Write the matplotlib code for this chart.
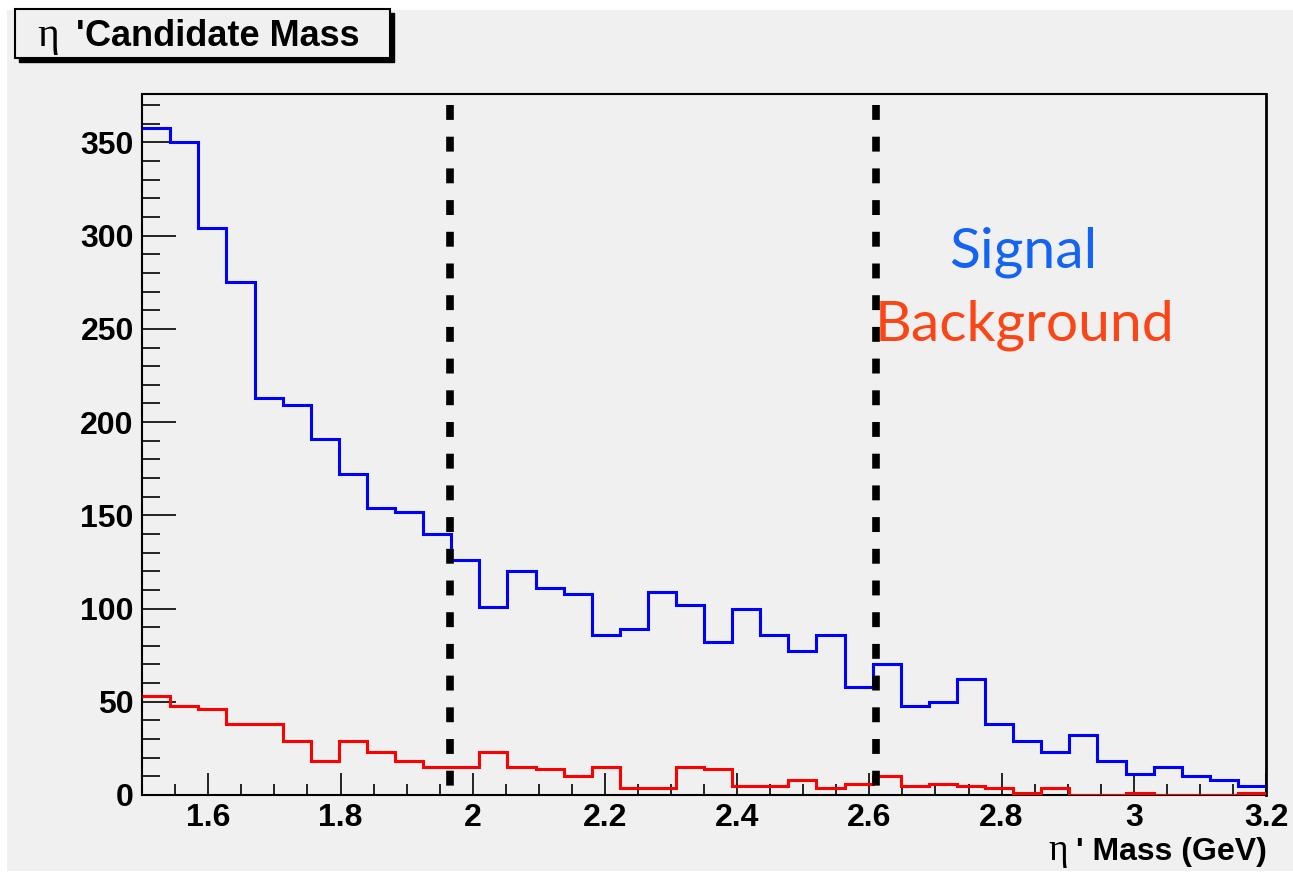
import numpy as np
import matplotlib
matplotlib.use("Agg")
import matplotlib.pyplot as plt
from matplotlib.patches import Rectangle
from matplotlib.ticker import MultipleLocator

# ---------------- data ----------------
x_min, x_max, n_bins = 1.5, 3.2, 40
signal = [358, 350, 304, 275, 213, 209, 191, 172, 154, 152,
          140, 126, 101, 120, 111, 108, 86, 89, 109, 102,
          82, 100, 86, 77, 86, 58, 70, 48, 50, 62,
          38, 29, 23, 32, 18, 11, 15, 10, 8, 5]
background = [53, 48, 46, 38, 38, 29, 18, 29, 23, 18,
              15, 15, 23, 15, 14, 10, 15, 4, 4, 15,
              14, 5, 5, 8, 4, 6, 10, 5, 6, 5,
              4, 1, 4, 0, 0, 1, 0, 0, 0, 1]
cut_lines = [1.965, 2.61]
cut_top = 370
y_max = 376
title_parts = ["η", "'", "Candidate Mass"]
xlabel_parts = ["η", "' Mass (GeV)"]
legend_labels = ["Signal", "Background"]

# ---------------- figure ----------------
W, H = 1293, 873
fig = plt.figure(figsize=(W / 100, H / 100), dpi=100, facecolor="white")

def fx(px):
    return px / W

def fy(py):
    return 1 - py / H

# gray canvas
fig.patches.append(Rectangle((fx(7), fy(871)), fx(1293) - fx(7), fy(10) - fy(871),
                             transform=fig.transFigure, facecolor="#f0f0f0",
                             edgecolor="none", zorder=-10))

ax = fig.add_axes([fx(142.2), fy(795), fx(1266) - fx(142.2), fy(94) - fy(795)])
ax.set_facecolor("#f0f0f0")

edges = np.linspace(x_min, x_max, n_bins + 1)
ax.stairs(signal, edges, baseline=None, color="#0000ff", lw=2.2, zorder=3)
ax.stairs(background, edges, baseline=None, color="#ff0000", lw=2.2, zorder=3)

for xc in cut_lines:
    ax.plot([xc, xc], [cut_top, 0], color="black", lw=5.5,
            dashes=(1.95, 2.2), solid_capstyle="butt", zorder=4)

ax.set_xlim(x_min, x_max)
ax.set_ylim(0, y_max)

ax.xaxis.set_major_locator(MultipleLocator(0.2))
ax.xaxis.set_minor_locator(MultipleLocator(0.05))
ax.yaxis.set_major_locator(MultipleLocator(50))
ax.yaxis.set_minor_locator(MultipleLocator(10))
ax.xaxis.set_major_formatter(plt.FuncFormatter(lambda v, p: f"{v:g}"))

ax.tick_params(axis="both", which="both", direction="in", top=False, right=False,
               colors="black", width=1.2)
ax.tick_params(axis="y", which="major", length=24.5, pad=6)
ax.tick_params(axis="y", which="minor", length=13)
ax.tick_params(axis="x", which="major", length=16, pad=6)
ax.tick_params(axis="x", which="minor", length=8)
for lab in ax.get_xticklabels() + ax.get_yticklabels():
    lab.set_fontfamily("Liberation Sans")
    lab.set_fontweight("bold")
    lab.set_fontsize(23)
for sp in ax.spines.values():
    sp.set_linewidth(1.5)
    sp.set_color("black")
ax.spines["right"].set_linewidth(2.0)

# legend text
ax.text(0.784, 0.753, legend_labels[0], transform=ax.transAxes, ha="center",
        va="baseline", fontsize=41, family="Lato", color="#1464f4")
ax.text(0.785, 0.649, legend_labels[1], transform=ax.transAxes, ha="center",
        va="baseline", fontsize=41, family="Lato", color="#fa4616")

# title box with shadow
bx0, bx1, by0, by1 = 15, 390, 9, 58
fig.patches.append(Rectangle((fx(bx0 + 4), fy(by1 + 4)), fx(bx1) - fx(bx0), fy(by0) - fy(by1),
                             transform=fig.transFigure, facecolor="black",
                             edgecolor="black", zorder=1))
fig.patches.append(Rectangle((fx(bx0), fy(by1)), fx(bx1) - fx(bx0), fy(by0) - fy(by1),
                             transform=fig.transFigure, facecolor="#f0f0f0",
                             edgecolor="black", lw=1.5, zorder=2))
fig.text(fx(37), fy(46), title_parts[0], family="Liberation Serif", fontsize=30,
         ha="left", va="baseline", zorder=5)
fig.text(fx(76), fy(46), title_parts[1], family="Liberation Sans", fontweight="bold",
         fontsize=26, ha="left", va="baseline", zorder=5)
fig.text(fx(85), fy(46), title_parts[2], family="Liberation Sans", fontweight="bold",
         fontsize=26, ha="left", va="baseline", zorder=5)

# x-axis label
fig.text(fx(1267), fy(860), xlabel_parts[1], family="Liberation Sans",
         fontweight="bold", fontsize=23, ha="right", va="baseline")
fig.text(fx(1048), fy(860), xlabel_parts[0], family="Liberation Serif", fontsize=27,
         ha="left", va="baseline")

fig.savefig("out.png", dpi=100, facecolor="white")
